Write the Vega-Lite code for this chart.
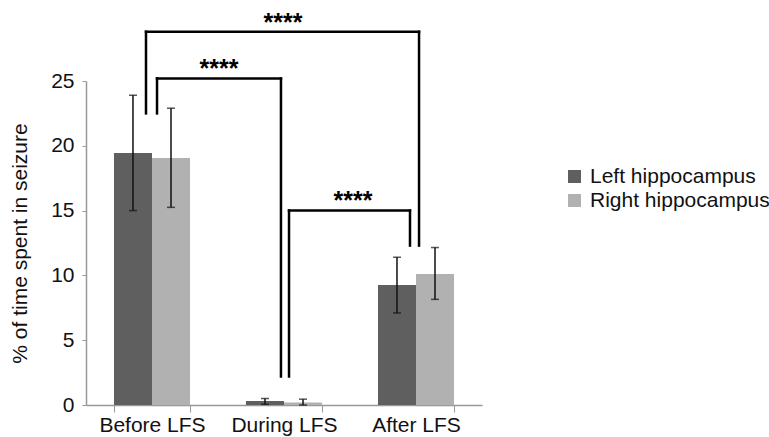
{
  "$schema": "https://vega.github.io/schema/vega-lite/v6.json",
  "width": 396,
  "height": 324,
  "autosize": {"type": "none"},
  "padding": {"left": 86, "top": 81, "right": 287, "bottom": 32},
  "background": "white",
  "config": {
    "font": "Liberation Sans",
    "view": {"stroke": null},
    "axis": {"grid": false, "domainColor": "#999999", "tickColor": "#999999", "labelColor": "#111111", "titleColor": "#111111", "labelFont": "Liberation Sans", "titleFont": "Liberation Sans"}
  },
  "datasets": {
    "bars": [
      {"phase": "Before LFS", "side": "Left hippocampus", "value": 19.45, "lo": 15.0, "hi": 23.9},
      {"phase": "Before LFS", "side": "Right hippocampus", "value": 19.05, "lo": 15.25, "hi": 22.9},
      {"phase": "During LFS", "side": "Left hippocampus", "value": 0.3, "lo": 0.05, "hi": 0.5},
      {"phase": "During LFS", "side": "Right hippocampus", "value": 0.2, "lo": 0.0, "hi": 0.45},
      {"phase": "After LFS", "side": "Left hippocampus", "value": 9.25, "lo": 7.1, "hi": 11.4},
      {"phase": "After LFS", "side": "Right hippocampus", "value": 10.1, "lo": 8.15, "hi": 12.15}
    ],
    "brackets": [
      {"x": 0.4545, "x2": 0.4545, "y": 22.5, "y2": 28.8},
      {"x": 0.4545, "x2": 2.523, "y": 28.8, "y2": 28.8},
      {"x": 2.523, "x2": 2.523, "y": 28.8, "y2": 12.3},
      {"x": 0.538, "x2": 0.538, "y": 22.5, "y2": 25.2},
      {"x": 0.538, "x2": 1.477, "y": 25.2, "y2": 25.2},
      {"x": 1.477, "x2": 1.477, "y": 25.2, "y2": 2.2},
      {"x": 1.538, "x2": 1.538, "y": 2.2, "y2": 15.0},
      {"x": 1.538, "x2": 2.4545, "y": 15.0, "y2": 15.0},
      {"x": 2.4545, "x2": 2.4545, "y": 15.0, "y2": 12.3}
    ],
    "stars": [
      {"x": 1.492, "y": 28.85, "label": "****"},
      {"x": 1.008, "y": 25.3, "label": "****"},
      {"x": 2.023, "y": 15.1, "label": "****"}
    ]
  },
  "layer": [
    {
      "layer": [
        {
          "data": {"name": "bars"},
          "mark": {"type": "bar"},
          "encoding": {
            "x": {"field": "phase", "type": "nominal", "sort": ["Before LFS", "During LFS", "After LFS"],
                  "scale": {"paddingInner": 0.424, "paddingOuter": 0.212},
                  "axis": {"title": null, "labelAngle": 0, "labelFontSize": 21, "tickBand": "extent", "tickSize": 7, "labelPadding": 2, "domainWidth": 1.5}},
            "xOffset": {"field": "side", "type": "nominal", "scale": {"paddingInner": 0, "paddingOuter": 0}},
            "y": {"field": "value", "type": "quantitative",
                  "scale": {"domain": [0, 25], "nice": false, "zero": true},
                  "axis": {"title": "% of time spent in seizure", "values": [0, 5, 10, 15, 20, 25], "tickSize": 4, "labelFontSize": 21, "titleFontSize": 21, "titleFontWeight": "normal", "labelPadding": 8, "titlePadding": 20, "domainWidth": 1.5}},
            "color": {"field": "side", "type": "nominal",
                      "scale": {"domain": ["Left hippocampus", "Right hippocampus"], "range": ["#5f5f5f", "#b1b1b1"]},
                      "legend": {"title": null, "orient": "none", "legendX": 478, "legendY": 85, "symbolType": "square", "symbolSize": 169, "symbolStrokeWidth": 0, "labelFontSize": 21, "labelLimit": 400, "labelColor": "#111111", "labelOffset": 5, "rowPadding": 2}}
          }
        },
        {
          "data": {"name": "bars"},
          "mark": {"type": "rule", "color": "#111111", "strokeWidth": 1.5},
          "encoding": {
            "x": {"field": "phase", "type": "nominal", "sort": ["Before LFS", "During LFS", "After LFS"]},
            "xOffset": {"field": "side", "type": "nominal"},
            "y": {"field": "lo", "type": "quantitative"},
            "y2": {"field": "hi"}
          }
        },
        {
          "data": {"name": "bars"},
          "transform": [{"fold": ["lo", "hi"], "as": ["end", "v"]}],
          "mark": {"type": "tick", "color": "#111111", "thickness": 1.5, "size": 8, "orient": "horizontal"},
          "encoding": {
            "x": {"field": "phase", "type": "nominal", "sort": ["Before LFS", "During LFS", "After LFS"]},
            "xOffset": {"field": "side", "type": "nominal"},
            "y": {"field": "v", "type": "quantitative"}
          }
        }
      ]
    },
    {
      "data": {"name": "brackets"},
      "mark": {"type": "rule", "color": "#000000", "strokeWidth": 2.5, "strokeCap": "square"},
      "encoding": {
        "x": {"field": "x", "type": "quantitative", "scale": {"domain": [0, 3], "nice": false, "zero": false}, "axis": null},
        "x2": {"field": "x2"},
        "y": {"field": "y", "type": "quantitative"},
        "y2": {"field": "y2"}
      }
    },
    {
      "data": {"name": "stars"},
      "mark": {"type": "text", "fontSize": 25, "fontWeight": "bold", "color": "#000000", "baseline": "alphabetic", "align": "center", "font": "Liberation Sans"},
      "encoding": {
        "x": {"field": "x", "type": "quantitative", "scale": {"domain": [0, 3], "nice": false, "zero": false}, "axis": null},
        "y": {"field": "y", "type": "quantitative"},
        "text": {"field": "label"}
      }
    }
  ],
  "resolve": {"scale": {"x": "independent"}}
}
